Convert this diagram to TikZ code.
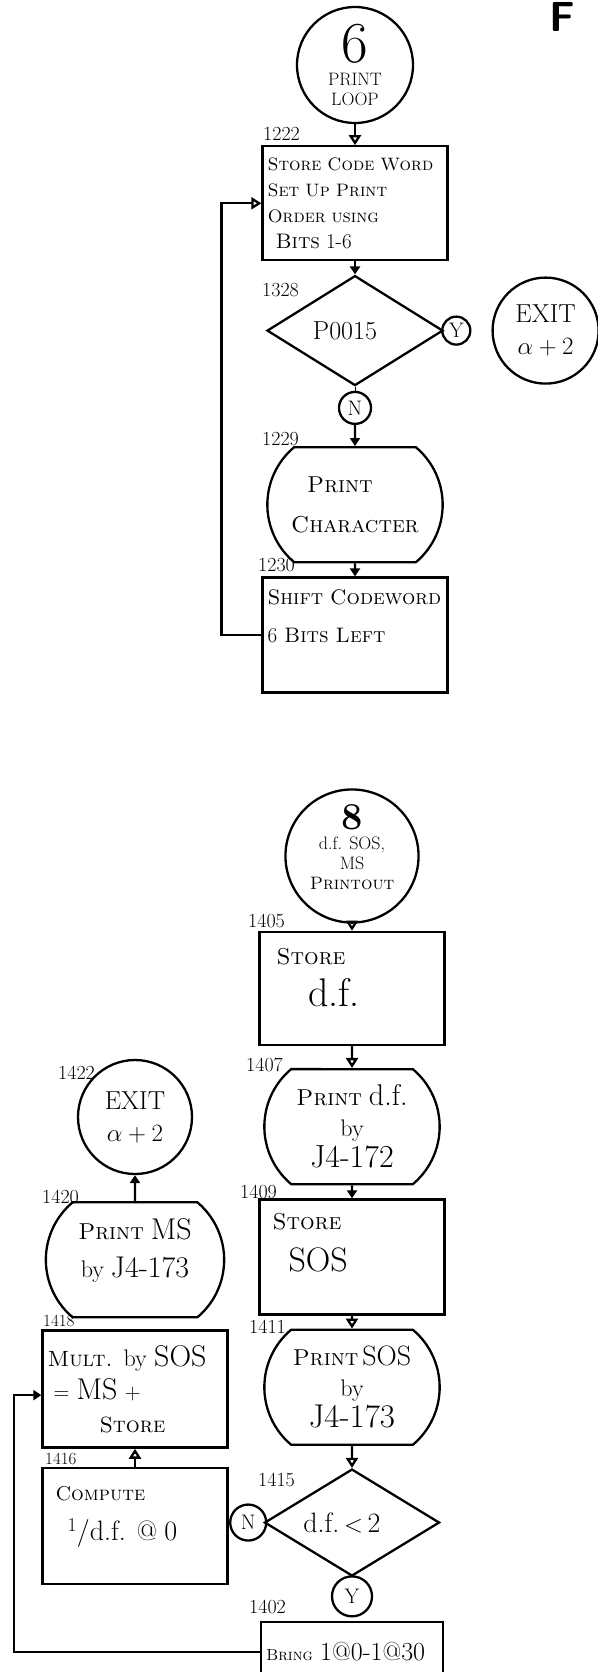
\documentclass[tikz,border=0pt]{standalone}
\usepackage{amsmath}
\usepackage{tikz}
\usetikzlibrary{shapes.geometric, shapes.misc, arrows.meta, positioning}
\tikzset{
    box/.style={rectangle, draw=black, line width=2.3pt, minimum width=185pt, minimum height=114pt, text width=175pt, inner xsep=5pt, align=left, font=\fontsize{22}{28}\selectfont},
    oval/.style={rounded rectangle, rounded rectangle arc length=100, draw=black, line width=2.3pt, minimum width=182pt, minimum height=115pt, align=center, font=\fontsize{23}{31}\selectfont},
    decision/.style={diamond, draw=black, line width=2.3pt, aspect=1.6, minimum width=176pt, minimum height=110pt, inner sep=0pt, font=\fontsize{26}{26}\selectfont},
    terminal/.style={circle, draw=black, line width=2.3pt, minimum size=116pt, inner sep=0pt, align=center, font=\fontsize{18}{20}\selectfont},
    yesno/.style={circle, draw=black, line width=2.3pt, inner sep=0pt, font=\fontsize{21}{21}\selectfont},
    tag/.style={inner sep=0pt, font=\fontsize{20}{20}\selectfont},
    arrow/.style={-{Triangle[length=8pt, width=10pt]}, line width=2.3pt},
    openarrow/.style={-{Triangle[open, length=10pt, width=12pt]}, line width=2.3pt},
}

\begin{document}
\begin{tikzpicture}[x=1pt, y=1pt]
        \useasboundingbox (0,0) rectangle (597,-1672);

        % Nodes: print loop
        \node[anchor=north west, inner sep=0pt, font=\fontsize{42}{42}\selectfont\sffamily\bfseries] (figmark) at (549,-2) {F};
        \node[terminal] (print6) at (355,-65) {{\fontsize{58}{58}\selectfont 6}\\[3pt] PRINT\\ LOOP};
        \node[box, below=21pt of print6, font=\fontsize{18}{26}\selectfont] (c1222) {\textsc{Store Code Word}\\ \textsc{Set Up Print}\\ \textsc{Order using}\\ \hspace*{8pt}{\fontsize{21}{21}\selectfont\textsc{Bits} 1-6}};
        \node[decision, below=13pt of c1222] (p0015) {P0015\hspace*{20pt}};
        \node[yesno, minimum size=28pt, right=-3pt of p0015] (yes1) {Y};
        \node[terminal, right=20pt of yes1, minimum size=106pt, font=\fontsize{26}{32}\selectfont] (exit1) {EXIT\\ $\alpha + 2$};
        \node[yesno, minimum size=32pt, below=4pt of p0015] (no1) {N};
        \node[oval, below=21pt of no1, font=\fontsize{23}{40}\selectfont] (c1229) {\textsc{Print}\hspace*{30pt}\\ \textsc{Character}};
        \node[box, below=13pt of c1229, minimum height=115pt, font=\fontsize{21}{38}\selectfont] (c1230) {\textsc{Shift Codeword}\\ 6 \textsc{Bits Left}\\ \mbox{}};

        \node[tag, above right=4pt and -92pt of c1222.north] (l1222) {1222};
        \node[tag, above right=34pt and -93pt of p0015.center] (l1328) {1328};
        \node[tag, above right=0pt and -93pt of c1229.north] (l1229) {1229};
        \node[tag, above right=4pt and -97pt of c1230.north] (l1230) {1230};

        % Nodes: d.f., SOS, MS printout
        \node[terminal] (print8) at (352,-856) {{\fontsize{38}{38}\selectfont\bfseries 8}\\ d.f. SOS,\\ MS\\ \textsc{Printout}\\[-2pt] \mbox{}};
        \node[box, below=7pt of print8, minimum height=113pt] (c1405) {\hspace*{12pt}{\fontsize{23}{23}\selectfont\textsc{Store}}\\[12pt] \hspace*{44pt}{\fontsize{40}{40}\selectfont d.f.}\\[-6pt] \mbox{}};
        \node[oval, below=22pt of c1405] (c1407) {\textsc{Print} {\fontsize{30}{30}\selectfont d.f.}\\ {\fontsize{24}{24}\selectfont by}\\ {\fontsize{32}{32}\selectfont J4-172}};
        \node[box, below=13pt of c1407, minimum height=115pt] (c1409) {\hspace*{8pt}{\fontsize{23}{23}\selectfont\textsc{Store}}\\[14pt] \hspace*{24pt}{\fontsize{34}{34}\selectfont SOS}\\[2pt] \mbox{}};
        \node[oval, below=13pt of c1409] (c1411) {\textsc{Print}\,{\fontsize{28}{28}\selectfont SOS}\\ {\fontsize{24}{24}\selectfont by}\\ {\fontsize{33}{33}\selectfont J4-173}};
        \node[decision, below=22pt of c1411, minimum width=175pt, minimum height=107pt, font=\fontsize{28}{28}\selectfont] (d1415) {d.f.\,$<$\,2\hspace*{20pt}};
        \node[yesno, minimum size=36pt, left=-4pt of d1415] (no2) {N};
        \node[yesno, minimum size=40pt, below=-2pt of d1415] (yes2) {Y};
        \node[box, below=3pt of yes2, minimum height=60pt, minimum width=182pt, text width=172pt, inner xsep=5pt] (c1402) {{\fontsize{16}{16}\selectfont\textsc{Bring}} {\fontsize{26}{26}\selectfont 1@0-1@30}};

        \node[terminal, minimum size=114pt, font=\fontsize{26}{32}\selectfont] (exit2) at (135,-1117) {EXIT\\ $\alpha + 2$};
        \node[oval, below=26pt of exit2, minimum width=185pt, font=\fontsize{23}{38}\selectfont] (c1420) {\textsc{Print} {\fontsize{30}{30}\selectfont MS}\\ {\fontsize{24}{24}\selectfont by} {\fontsize{30}{30}\selectfont J4-173}\\[-14pt] \mbox{}};
        \node[box, below=11pt of c1420, minimum height=117pt, font=\fontsize{22}{33}\selectfont] (c1418) {\textsc{Mult.} {\fontsize{24}{24}\selectfont by} {\fontsize{30}{30}\selectfont SOS}\\ \hspace*{6pt}= {\fontsize{30}{30}\selectfont MS} +\\ \hspace*{52pt}\textsc{Store}};
        \node[box, below=18pt of c1418, minimum height=116pt] (c1416) {\hspace*{8pt}{\fontsize{20}{20}\selectfont\textsc{Compute}}\\[12pt] \hspace*{20pt}{\fontsize{28}{28}\selectfont \textsuperscript{1}/d.f. @ 0}\\[-4pt] \mbox{}};

        \node[tag, above right=3pt and -104pt of c1405.north] (l1405) {1405};
        \node[tag, above right=-4pt and -106pt of c1407.north] (l1407) {1407};
        \node[tag, above right=-1pt and -112pt of c1409.north] (l1409) {1409};
        \node[tag, above right=-5pt and -103pt of c1411.north] (l1411) {1411};
        \node[tag, above right=36pt and -94pt of d1415.center] (l1415) {1415};
        \node[tag, above right=6pt and -103pt of c1402.north] (l1402) {1402};
        \node[tag, above right=37pt and -77pt of exit2.center] (l1422) {1422};
        \node[tag, above right=-3pt and -93pt of c1420.north] (l1420) {1420};
        \node[tag, above right=2pt and -92pt of c1418.north, font=\fontsize{17}{17}\selectfont] (l1418) {1418};
        \node[tag, above right=2pt and -90pt of c1416.north, font=\fontsize{17}{17}\selectfont] (l1416) {1416};

        % Connections
        \draw[openarrow] (print6) -- (c1222);
        \draw[arrow] (c1222) -- (p0015);
        \draw (p0015) -- (no1);
        \draw[arrow] (no1) -- (c1229);
        \draw[arrow] (c1229) -- (c1230);
        \draw[openarrow] (c1230.west) -- ++(-40pt,0) |- (c1222.west);

        \draw[openarrow] (print8) -- (c1405);
        \draw[openarrow] (c1405) -- (c1407);
        \draw[arrow] (c1407) -- (c1409);
        \draw[openarrow] (c1409) -- (c1411);
        \draw[openarrow] (c1411) -- (d1415);
        \draw[arrow] (c1402.west) -- ++(-246pt,0) |- ([yshift=-6pt]c1418.west);
        \draw[openarrow] (c1416) -- (c1418);
        \draw[arrow] (c1420) -- (exit2);
    \end{tikzpicture}
\end{document}
